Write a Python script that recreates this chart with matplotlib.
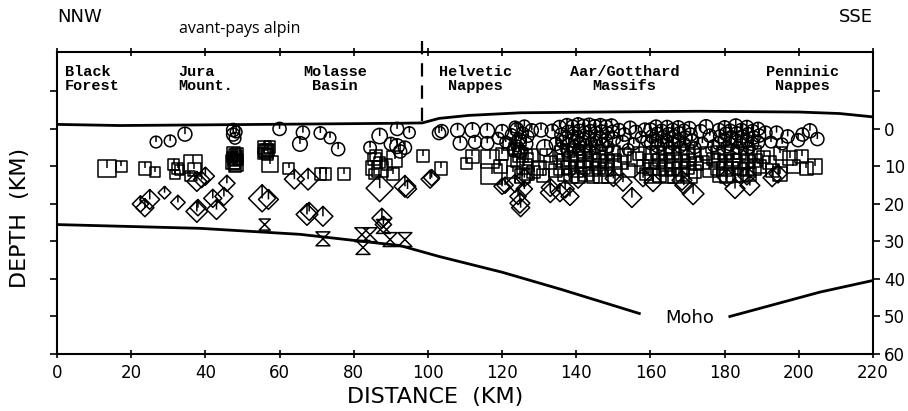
import matplotlib
matplotlib.use("Agg")
from matplotlib import pyplot as plt
from matplotlib.path import Path
from matplotlib.ticker import FixedLocator, FixedFormatter

# topography (negative depth = above sea level) and Moho
topo_km = [0, 17, 55, 92, 98.5, 103, 111, 125, 146, 173, 200, 211, 220]
topo_depth = [-1.2, -0.9, -1.2, -1.5, -1.6, -2.8, -3.6, -4.3, -4.5, -4.7, -4.5, -4.1, -3.2]
moho_west_km = [0, 38.5, 65.5, 92.5, 103, 120, 136, 157]
moho_west_depth = [25.5, 26.5, 28.1, 31.1, 34.0, 38.2, 42.8, 49.2]
moho_east_km = [181.4, 205.7, 220]
moho_east_depth = [50.0, 43.5, 40.4]

# regions along the profile
region_names = ["Black\nForest", "Jura\nMount.", "Molasse\nBasin", "Helvetic\nNappes",
                "Aar/Gotthard\nMassifs", "Penninic\nNappes"]
region_km = [2.2, 32.6, 75, 112.7, 153, 201]
region_ha = ["left", "left", "center", "center", "center", "center"]

# hypocentres: (distance km, depth km, symbol size pt)
circles = [
    (26.7, 3.5, 8), (30.5, 3.2, 8), (34.5, 1.4, 9.5), (47.5, 0.3, 9), (47.5, 1.5, 9),
    (48, 2.5, 8), (48.3, 0.8, 8),
    (60, 0, 9), (66.3, 1, 9), (71, 1.1, 8.5), (73.6, 2.4, 8), (65.5, 4, 10), (75.8, 5.4, 9),
    (87, 1.9, 10.5), (91.7, 0, 9), (95, 1, 8), (84.4, 5, 8.5), (91.7, 4.6, 10), (93.8, 5, 9),
    (103, 1.1, 9), (90, 4, 9), (92.5, 6, 9),
    (103.7, 0.6, 9), (108, 0.4, 9.5), (112, 0.3, 10), (116, 0.5, 10), (120, 0.6, 9),
    (124, 0.2, 9.5), (128, 0.4, 9), (130.5, 0.3, 9.5), (133.5, 0.6, 9.5),
    (108.7, 3.8, 9.5), (112.7, 3.5, 9), (116, 3.8, 9), (119, 2.5, 8), (121, 3.5, 8),
    (131.5, 5, 11), (134.5, 4, 9),
    (122.5, 1.5, 8), (123.5, -0.5, 8), (124.5, 2.8, 9), (125.5, 1, 8), (126.5, 4, 9),
    (123, 5.5, 8), (125, 6, 9), (127, 2, 8), (124, 4.5, 8), (126, -0.8, 8),
    (135.5, -0.5, 9), (136, 1.5, 9), (136.5, 3.5, 9), (135.8, 5.2, 8),
    (137.5, -1.0, 9), (137.8, 0.8, 9), (137.2, 2.5, 9), (138, 4.2, 9), (137.6, 5.8, 8),
    (139, -0.6, 9), (139.3, 1.2, 9), (139, 3, 9), (139.5, 4.8, 9),
    (140.5, -1.2, 9), (140.8, 0.5, 9), (140.3, 2.2, 9), (141, 3.8, 9), (140.6, 5.5, 8),
    (142, -0.8, 9), (142.3, 1.0, 9), (142, 2.8, 9), (142.5, 4.5, 9),
    (143.5, -1.1, 9), (143.8, 0.6, 9), (143.4, 2.4, 9), (144, 4.0, 9), (143.6, 5.8, 8),
    (145, -0.7, 9), (145.3, 1.1, 9), (145, 3.0, 9), (145.5, 4.6, 9),
    (146.5, -1.0, 9), (146.8, 0.7, 9), (146.4, 2.5, 9), (147, 4.2, 9),
    (148, -0.6, 9), (148.4, 1.2, 9), (148, 3.0, 9), (148.6, 4.8, 8),
    (149.5, -0.9, 9), (149.8, 0.8, 9), (150.2, 2.6, 9),
    (151.5, 0.3, 9), (153, 1.5, 9), (154.5, -0.3, 9), (156, 0.8, 9), (157.5, 2.2, 8),
    (152.5, 3.5, 9), (155.5, 4, 8), (158.5, 0.2, 9), (159, 3.2, 8), (154, 5.5, 8),
    (160, 0.2, 9), (160.5, 2, 9), (160.2, 3.8, 9), (161.5, -0.6, 9), (161.8, 1.3, 9),
    (161.5, 3, 9), (162, 4.6, 9), (163, 0.5, 9), (163.4, 2.2, 9), (163, 4, 9),
    (164.5, -0.5, 9), (164.8, 1.4, 9), (164.4, 3.2, 9), (165, 5, 8), (166, 0.3, 9),
    (166.4, 2, 9), (166, 3.8, 9), (167.5, -0.4, 9), (167.8, 1.2, 9), (167.4, 3, 9),
    (168, 4.8, 8), (169, 0.5, 9), (169.4, 2.3, 9), (169, 4, 9), (170.5, -0.2, 9),
    (170.8, 1.5, 9), (171.2, 3.2, 9), (172, 5, 8),
    (173.5, 0.6, 9), (175, -0.6, 9.5), (176, 1.8, 9), (174, 3.8, 8), (177, 4.5, 8),
    (178.5, 0.3, 9), (178.8, 2, 9), (178.4, 3.8, 9), (180, -0.4, 9), (180.3, 1.3, 9),
    (180, 3, 9), (180.6, 4.8, 8), (181.5, 0.5, 9), (181.8, 2.2, 9), (181.4, 4, 9),
    (183, -0.8, 9.5), (183.3, 1.2, 9), (183, 3, 9), (183.6, 5, 8), (184.5, 0.3, 9),
    (184.8, 2, 9), (184.4, 3.8, 9), (186, -0.5, 9), (186.3, 1.4, 9), (186, 3.2, 9),
    (186.6, 5, 8), (187.5, 0.6, 9), (187.8, 2.3, 9), (187.4, 4, 9), (189, 0.0, 9),
    (189.3, 1.8, 9), (189, 3.6, 9),
    (191, 1, 9), (194, 1, 9), (197, 2, 9), (199.8, 3, 9), (203, 0.5, 9.5), (205, 2.7, 9),
    (192.5, 3.5, 8), (195.5, 4, 8), (201, 1.5, 9),
]

squares = [
    (13.5, 10.5, 11), (17.3, 10, 7), (23.7, 10.5, 8), (26.4, 11.5, 6.5), (31.5, 9.5, 7),
    (32.5, 10.5, 7), (33, 11, 6), (31.8, 12.2, 6), (36.7, 9.4, 11), (35.9, 12.6, 6.5),
    (37, 10.8, 8),
    (47.5, 6.5, 8), (48, 7, 7.5), (48.5, 7.5, 7), (47.8, 8, 8), (48.2, 8.5, 7), (47.6, 9, 7.5),
    (48.4, 9.5, 8), (48, 10, 7), (47.2, 7.5, 6.5), (48.8, 8.2, 6.5), (47.5, 8.8, 8.5),
    (48.5, 6.8, 8),
    (56, 5, 8), (57, 5.5, 7.5), (56.5, 6, 8), (55.8, 6.5, 7), (57.2, 4.8, 7), (56.8, 6.8, 6.5),
    (56.2, 5.8, 8.5), (57.4, 9.4, 10), (62.5, 10.5, 7), (71, 12, 7), (72.5, 12, 7),
    (77.4, 12, 7.5), (85.7, 8, 8), (85.3, 10.5, 9), (87, 10.8, 10), (91, 8, 9.5),
    (90.6, 12, 8), (98.7, 7.2, 7.5), (86, 7, 7), (87, 9, 7), (89, 9.5, 6.5), (85.5, 12, 6.5),
    (103.5, 10.5, 8), (110.5, 9.2, 7), (112, 7.3, 8), (116.7, 8, 11), (117.2, 12, 13),
    (120, 6.7, 8), (119.5, 10, 8),
    (122, 4, 8), (123.5, 5.5, 8), (125, 7, 9), (124, 8.5, 8), (126, 10, 9), (123, 11.5, 8),
    (127, 12, 8), (125, 3, 7), (124.5, 6, 7), (126.5, 8, 8), (125.5, 12.5, 9), (128, 7, 8),
    (128.5, 11.5, 8), (130, 10.5, 9), (131, 12.5, 8), (133, 9, 8), (134.5, 11, 8), (132, 7, 8),
    (136, 6.2, 8), (136.5, 8.4, 8.5), (136, 10.5, 9), (136.8, 12.3, 8),
    (138, 5.8, 8), (138.4, 8, 8.5), (138, 10.2, 8), (138.6, 12.5, 9),
    (140, 6.5, 8.5), (140.4, 8.6, 8), (140, 10.8, 9), (140.5, 12.8, 8),
    (142, 6, 8), (142.3, 8.2, 9), (142, 10.3, 8), (142.6, 12.2, 8.5),
    (144, 6.4, 8), (144.4, 8.5, 8), (144, 10.6, 9), (144.5, 12.6, 8),
    (146, 6.1, 8.5), (146.3, 8.3, 8), (146, 10.4, 8), (146.6, 12.4, 9),
    (148, 6.5, 8), (148.4, 8.7, 8.5), (148, 10.8, 8), (148.6, 12.7, 8),
    (150, 6.2, 8), (150.3, 8.4, 8), (150, 10.5, 9),
    (152, 9, 8), (154, 11, 8), (156, 8, 9), (158, 10, 8), (159, 12, 8), (153, 7, 8), (157, 6.5, 8),
    (160, 6.5, 8), (160.4, 8.6, 8.5), (160, 10.7, 8), (160.6, 12.6, 9),
    (162, 6.2, 8), (162.3, 8.3, 8), (162, 10.4, 9), (162.5, 12.4, 8),
    (164, 6.6, 8.5), (164.4, 8.7, 8), (164, 10.8, 8), (164.6, 12.8, 8),
    (166, 6.3, 8), (166.3, 8.4, 9), (166, 10.5, 8), (166.5, 12.5, 8.5),
    (168, 6.5, 8), (168.4, 8.6, 8), (168, 10.7, 8.5), (168.6, 12.2, 8),
    (170, 6.2, 8.5), (170.3, 8.3, 8), (170, 10.4, 8), (170.5, 12.6, 9),
    (172, 7, 8), (172.4, 9.2, 8), (172, 11.3, 8),
    (174, 9, 8), (176, 11, 9), (177, 8, 8), (175, 6.5, 8),
    (178, 6.2, 8), (178.4, 8.4, 8.5), (178, 10.5, 8), (178.6, 12.4, 8),
    (180, 6.5, 8), (180.3, 8.6, 8), (180, 10.7, 9), (180.5, 12.6, 8),
    (182, 6.1, 8.5), (182.4, 8.3, 8), (182, 10.4, 8), (182.6, 12.3, 8.5),
    (184, 6.4, 8), (184.3, 8.5, 9), (184, 10.6, 8), (184.5, 12.5, 8),
    (186, 6.6, 8), (186.4, 8.7, 8), (186, 10.8, 8.5), (186.6, 12.2, 8),
    (188, 6.3, 8.5), (188.3, 8.4, 8), (188, 10.5, 8),
    (189.5, 10, 8), (190.5, 7.5, 8), (192, 9, 8), (195, 6.5, 8), (195, 12, 9),
    (197.6, 7.8, 9), (200.8, 7.3, 8), (204.4, 10, 9), (202, 10.5, 8), (193, 11, 8),
    (198.5, 10, 8),
]

diamonds = [
    (25, 18.8, 11), (23.7, 21, 10), (29, 17, 7), (32.6, 19.6, 8), (37.7, 14, 11), (40, 12.6, 10),
    (37.7, 22, 12), (42, 18.5, 10), (43, 21.5, 11), (45, 18, 10), (45.8, 14.5, 9), (39, 13.5, 9),
    (22.5, 20, 9), (38, 21, 9),
    (64, 13.4, 11), (67.7, 13.4, 12), (55.3, 18.5, 15), (57, 18.8, 11), (67.4, 22.8, 12),
    (68, 22, 10), (71.7, 23.3, 11), (87, 15.8, 15), (93.8, 15.3, 12), (94.5, 16, 10),
    (100.6, 13.4, 10), (87.6, 23.8, 11), (88, 25.5, 9),
    (101, 13, 9), (120, 15.3, 9), (120.8, 15, 9), (123.5, 14.5, 10), (124.8, 19.8, 11),
    (124.3, 18, 9), (126, 13, 10), (133, 17, 11), (133, 15.6, 10), (135.6, 17, 10),
    (137, 16, 10), (138.3, 18, 10), (140.5, 13.4, 10), (150, 13.2, 9), (152.6, 14.2, 10),
    (155, 18.3, 11), (158, 13, 10), (160.7, 14.3, 10), (168.5, 13.7, 11), (169, 15, 10),
    (171.5, 17.3, 12), (180.6, 13, 10), (182.8, 15.9, 11), (186, 12.5, 10), (186.8, 15.1, 11),
    (192.8, 13, 10), (194.4, 12, 10), (125, 21, 10), (126, 16, 9),
]

hourglasses = [
    (56, 25.5, 8), (71.7, 29.3, 10), (82.2, 28.2, 10), (84.4, 28.2, 10), (82.5, 31.6, 10),
    (89.8, 29.5, 10), (93.8, 29.5, 10), (88, 26, 10),
]

# symbols: outline with a short tick from the top to the centre
tick = Path([(0, 1), (0, 0)], [Path.MOVETO, Path.LINETO])
closed = [Path.MOVETO, Path.LINETO, Path.LINETO, Path.LINETO, Path.CLOSEPOLY]
circle_mk = Path.make_compound_path(Path.unit_circle(), tick)
square_mk = Path.make_compound_path(Path([(-1, -1), (1, -1), (1, 1), (-1, 1), (-1, -1)], closed), tick)
diamond_mk = Path.make_compound_path(Path([(0, 1), (1, 0), (0, -1), (-1, 0), (0, 1)], closed), tick)
hour_mk = Path([(-1, 1), (1, 1), (-1, -1), (1, -1), (-1, 1)], closed)

plot_font = ["DejaVu Sans"]
mono_font = ["Liberation Mono", "DejaVu Sans Mono"]

fig = plt.figure(figsize=(9.08, 4.11), dpi=100)
ax = fig.add_axes([57/908, 1-354/411, 816/908, 302/411])

# symbol outlines drawn a bit larger than the size column, like the print
for pts, mk, grow in [(circles, circle_mk, 1.05), (squares, square_mk, 1.15),
                      (diamonds, diamond_mk, 1.3), (hourglasses, hour_mk, 1.0)]:
    xs, ds, ss = zip(*pts)
    ax.scatter(xs, ds, s=[(v*grow)**2 for v in ss], marker=mk, facecolors="none",
               edgecolors="black", linewidths=1.1, zorder=3)

ax.plot(topo_km, topo_depth, color="black", lw=2.0, zorder=4)
ax.plot(moho_west_km, moho_west_depth, color="black", lw=2.0, zorder=4)
ax.plot(moho_east_km, moho_east_depth, color="black", lw=2.0, zorder=4)
ax.plot([98.5, 98.5], [-23.5, -1.6], color="black", lw=1.6, linestyle=(0, (6, 4)), clip_on=False, zorder=4)

for name, km, ha in zip(region_names, region_km, region_ha):
    ax.text(km, -17.0, name, ha=ha, va="top", fontsize=11, family=mono_font,
            weight="bold", linespacing=1.0)
ax.text(170.7, 50.5, "Moho", ha="center", va="center", fontsize=13, family=plot_font)

ax.set_xlim(0, 220)
ax.set_ylim(60, -20.5)

ax.xaxis.set_major_locator(FixedLocator(list(range(0, 221, 20))))
ax.tick_params(axis="x", which="major", direction="inout", length=6, width=1.2,
               top=True, labeltop=False, labelsize=12, pad=4)
ax.yaxis.set_major_locator(FixedLocator(list(range(-10, 61, 10))))
ax.yaxis.set_major_formatter(FixedFormatter([""] + [str(v) for v in range(0, 61, 10)]))
ax.tick_params(axis="y", direction="out", length=5, width=1.2, left=True, right=True,
               labelleft=False, labelright=True, labelsize=12, pad=3)
for lab in ax.get_xticklabels() + ax.get_yticklabels():
    lab.set_family(plot_font)
for sp in ax.spines.values():
    sp.set_linewidth(1.5)

fig.text(435/908, 1-397/411, "DISTANCE  (KM)", ha="center", va="center", fontsize=16, family=plot_font)
fig.text(20/908, 1-218/411, "DEPTH  (KM)", ha="center", va="center", rotation=90, fontsize=16, family=plot_font)
fig.text(57/908, 1-17/411, "NNW", ha="left", va="center", fontsize=13, family=plot_font)
fig.text(873/908, 1-17/411, "SSE", ha="right", va="center", fontsize=13, family=plot_font)
fig.text(240/908, 1-29/411, "avant-pays alpin", ha="center", va="center", fontsize=11.5,
         family=["Open Sans", "DejaVu Sans"])

fig.savefig("out.png", dpi=100)
